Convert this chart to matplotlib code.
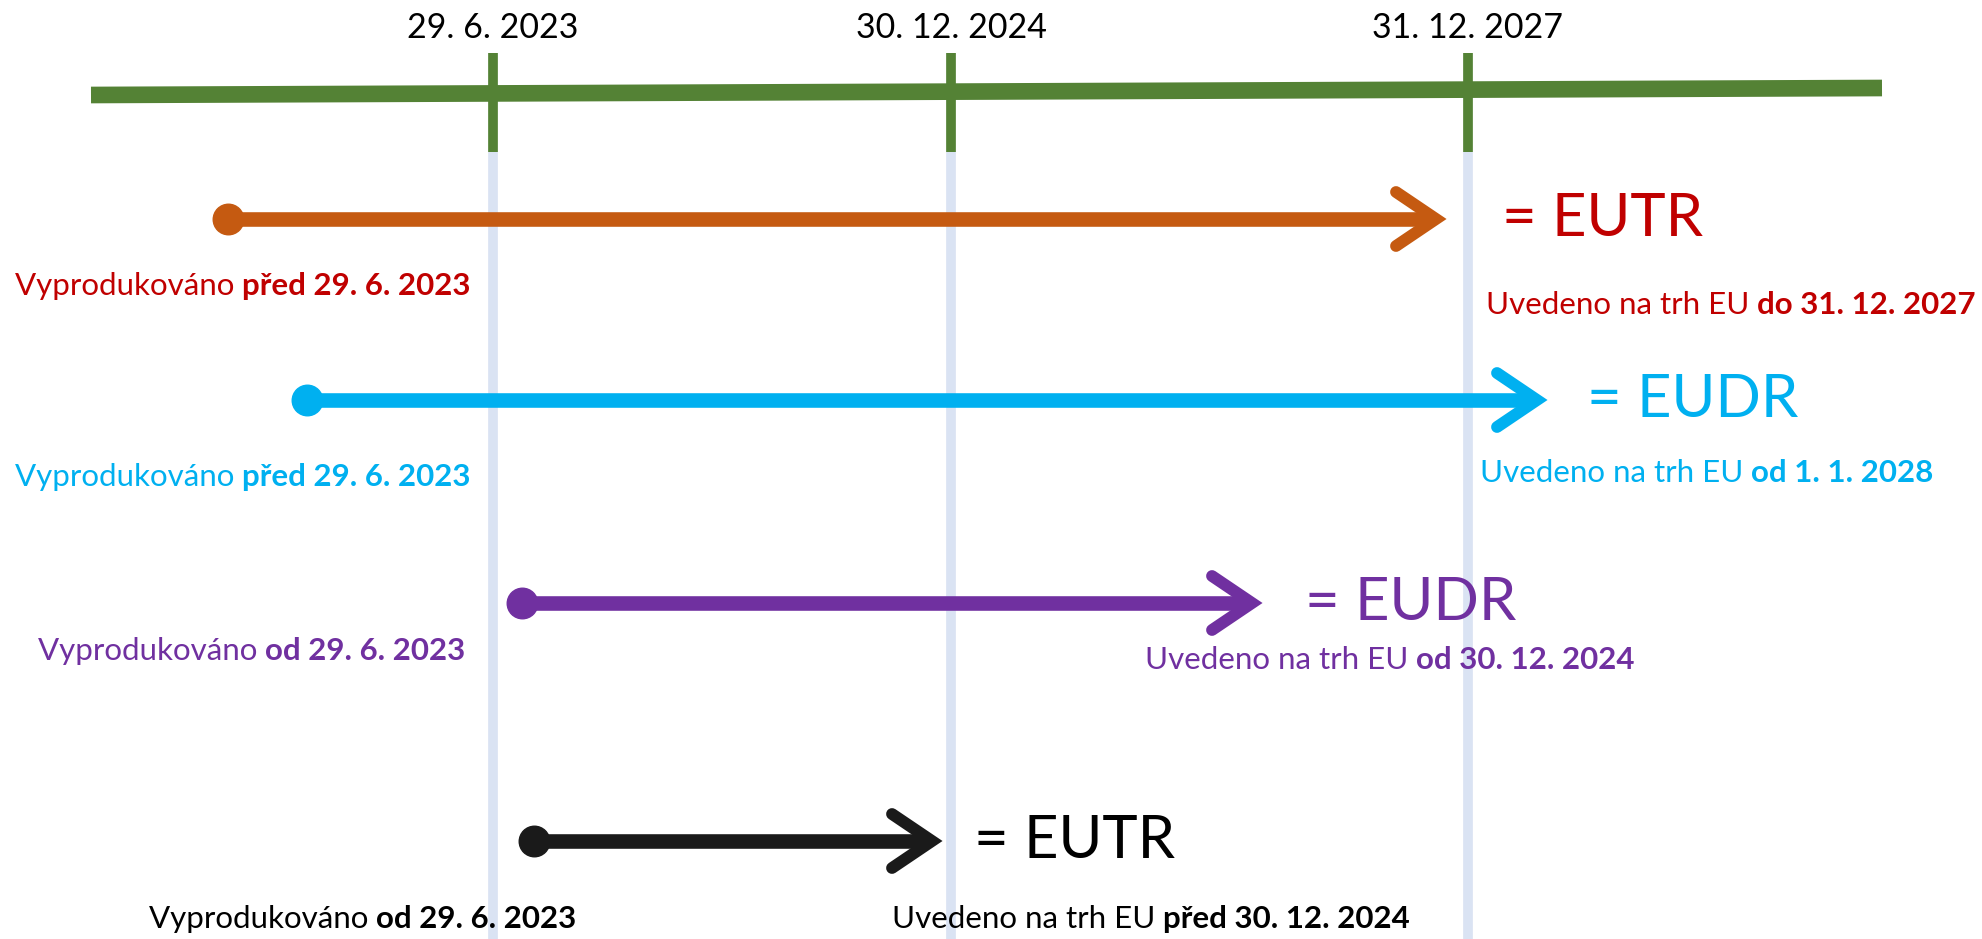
#
# Timeline: EUTR vs EUDR depending on production and placing-on-market dates
#

import matplotlib
matplotlib.use("Agg")
import matplotlib.pyplot as plt

# data
dates = ["29. 6. 2023", "30. 12. 2024", "31. 12. 2027"]
regs = ["EUTR", "EUDR", "EUDR", "EUTR"]
produced = ["před 29. 6. 2023", "před 29. 6. 2023", "od 29. 6. 2023", "od 29. 6. 2023"]
placed = ["do 31. 12. 2027", "od 1. 1. 2028", "od 30. 12. 2024", "před 30. 12. 2024"]

# layout (pixel coordinates of the 1983x939 canvas)
date_x = [493, 951, 1468]
start_x = [228, 307, 522, 534]
end_x = [1442, 1543, 1258, 938]
row_y = [219, 400, 603, 841]
reg_x = [1502, 1587, 1305, 974]
left_x = [15, 15, 38, 149]
left_y = [286, 477, 651, 919]
right_x = [1486, 1480, 1145, 892]
right_y = [305, 473, 660, 919]

arrow_col = ["#C55A11", "#00B0F0", "#7030A0", "#1A1A1A"]
text_col = ["#C00000", "#00B0F0", "#7030A0", "#000000"]
green = "#548235"
pale = "#DAE3F3"

plt.rcParams["font.family"] = ["Lato", "DejaVu Sans"]

fig = plt.figure(figsize=(19.83, 9.39), dpi=100)
ax = fig.add_axes([0, 0, 1, 1])
ax.set_xlim(0, 1983)
ax.set_ylim(939, 0)
ax.axis("off")

# timeline
ax.plot([91, 1882], [95, 88], color=green, lw=12, solid_capstyle="butt", zorder=3)
for x, d in zip(date_x, dates):
    ax.plot([x, x], [53, 152], color=green, lw=7, solid_capstyle="butt", zorder=4)
    ax.plot([x, x], [152, 939], color=pale, lw=7, solid_capstyle="butt", zorder=1)
    ax.text(x, 28, d, ha="center", va="center", fontsize=24.5, color="black")


def two_part(x, y, normal, bold, color, size):
    t = ax.text(x, y, normal, ha="left", va="center", fontsize=size, color=color)
    ax.annotate(bold, xy=(1, 0), xycoords=t, ha="left", va="bottom",
                fontsize=size, color=color, fontweight="bold")


for i in range(4):
    y = row_y[i]
    tip = end_x[i] - 6
    ax.plot([start_x[i], tip - 4], [y, y], color=arrow_col[i], lw=10.5,
            solid_capstyle="butt", zorder=5)
    ax.plot([start_x[i]], [y], "o", color=arrow_col[i], ms=22, zorder=6)
    ax.plot([tip - 40, tip, tip - 40], [y - 27, y, y + 27],
            color=arrow_col[i], lw=8.5, solid_capstyle="round",
            solid_joinstyle="miter", zorder=6)
    ax.text(reg_x[i], y, "= " + regs[i], ha="left", va="center",
            fontsize=43, color=text_col[i])
    two_part(left_x[i], left_y[i], "Vyprodukováno ", produced[i], text_col[i], 22.5)
    two_part(right_x[i], right_y[i], "Uvedeno na trh EU ", placed[i], text_col[i], 22.5)

fig.savefig("out.png", dpi=100)
